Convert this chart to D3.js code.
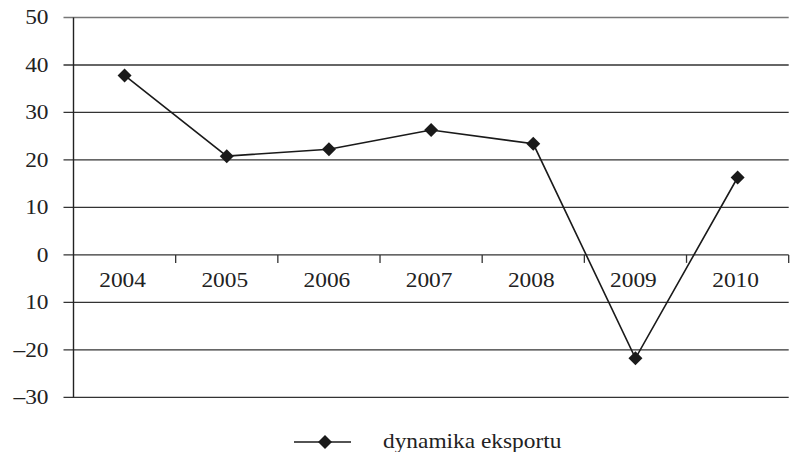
<!DOCTYPE html>
<html><head><meta charset="utf-8">
<script src="https://cdn.jsdelivr.net/npm/d3@7"></script>
<style>body{margin:0;background:#fff}svg{display:block}
text{font-family:"Liberation Serif",serif;}</style>
</head><body>
<script>
const categories = ["2004","2005","2006","2007","2008","2009","2010"];
const values = [37.8, 20.8, 22.25, 26.3, 23.4, -21.8, 16.3];
const yTicks = [50, 40, 30, 20, 10, 0, -10, -20, -30];
const yTickLabels = ["50","40","30","20","10","0","10","\u201320","\u201330"];
const seriesName = "dynamika eksportu";

(function () {
const W = 794, H = 452;
const mLeft = 73.5, mRight = 788.7, mTop = 17.5, mBottom = 397.3;
const fs = 20.5, sx = 1.14;
const tf = (px, py) => `translate(${px},${py}) scale(${sx},1)`;

const svg = d3.select("body").append("svg").attr("width", W).attr("height", H);
const x = d3.scaleBand().domain(categories).range([mLeft, mRight]);
const y = d3.scaleLinear().domain([-30, 50]).range([mBottom, mTop]);

// gridlines
svg.append("g").selectAll("line").data(yTicks).join("line")
  .attr("x1", mLeft - 10).attr("x2", mRight)
  .attr("y1", d => y(d)).attr("y2", d => y(d))
  .attr("stroke", d => d === 50 ? "#777" : "#333").attr("stroke-width", 1.3);

// y axis line
svg.append("line").attr("x1", mLeft).attr("x2", mLeft).attr("y1", y(50)).attr("y2", y(-30))
  .attr("stroke", "#222").attr("stroke-width", 1.4);

// y labels
svg.append("g").selectAll("text").data(yTicks).join("text")
  .attr("transform", d => tf(mLeft - 25, y(d))).attr("dy", "0.33em")
  .attr("text-anchor", "end").attr("font-size", fs)
  .attr("fill", "#222").text((d, i) => yTickLabels[i]);

// category tick marks on zero line
const bounds = categories.map(c => x(c) + x.bandwidth());
svg.append("g").selectAll("line").data(bounds).join("line")
  .attr("x1", d => d).attr("x2", d => d).attr("y1", y(0)).attr("y2", y(0) + 8)
  .attr("stroke", "#333").attr("stroke-width", 1.3);

// category labels
svg.append("g").selectAll("text").data(categories).join("text")
  .attr("transform", d => tf(x(d) + x.bandwidth() / 2 - 2, y(0) + 32))
  .attr("text-anchor", "middle").attr("font-size", fs)
  .attr("fill", "#222").text(d => d);

// line
const data = categories.map((c, i) => ({c, v: values[i]}));
svg.append("path").datum(data)
  .attr("d", d3.line().x(d => x(d.c) + x.bandwidth() / 2).y(d => y(d.v)))
  .attr("fill", "none").attr("stroke", "#1a1a1a").attr("stroke-width", 1.6);

const diamond = "M0,-7L7,0L0,7L-7,0Z";
svg.append("g").selectAll("path").data(data).join("path")
  .attr("transform", d => `translate(${x(d.c) + x.bandwidth() / 2},${y(d.v)})`)
  .attr("d", diamond).attr("fill", "#1a1a1a");

// legend
const lg = svg.append("g").attr("transform", "translate(294,442)");
lg.append("line").attr("x1", 0).attr("x2", 57).attr("y1", 0).attr("y2", 0)
  .attr("stroke", "#1a1a1a").attr("stroke-width", 1.6);
lg.append("path").attr("transform", "translate(31,0)").attr("d", diamond).attr("fill", "#1a1a1a");
lg.append("text").attr("transform", tf(89, 0)).attr("dy", "0.3em")
  .attr("font-size", fs).attr("fill", "#222").text(seriesName);
})();
</script>
</body></html>
